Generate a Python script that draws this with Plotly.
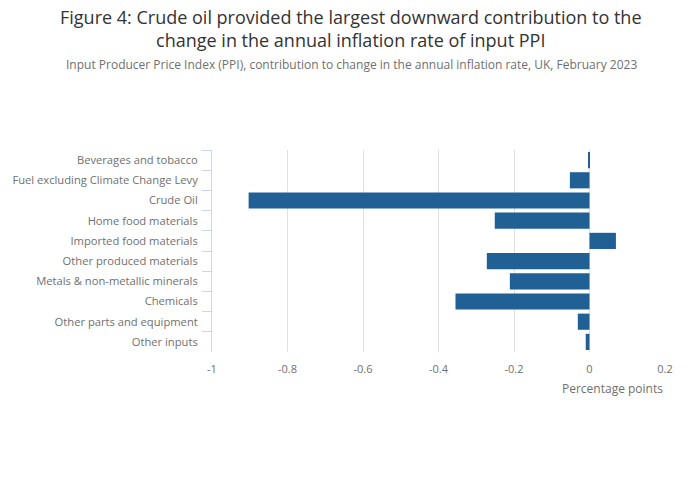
import plotly.graph_objects as go

categories = [
    "Beverages and tobacco",
    "Fuel excluding Climate Change Levy",
    "Crude Oil",
    "Home food materials",
    "Imported food materials",
    "Other produced materials",
    "Metals & non-metallic minerals",
    "Chemicals",
    "Other parts and equipment",
    "Other inputs",
]
values = [-0.003, -0.052, -0.903, -0.251, 0.07, -0.272, -0.211, -0.355, -0.031, -0.01]
x_tick_values = [-1, -0.8, -0.6, -0.4, -0.2, 0, 0.2]
x_tick_labels = ["-1", "-0.8", "-0.6", "-0.4", "-0.2", "0", "0.2"]

W, HGT = 700, 502
LEFT, RIGHT = 210, 665
TOP, BOTTOM = 150, 352
PH = BOTTOM - TOP
PW = RIGHT - LEFT


def py(pixel_y):
    return (BOTTOM - pixel_y) / PH


def px(pixel_x):
    return (pixel_x - LEFT) / PW


fig = go.Figure(
    go.Bar(
        x=values,
        y=categories,
        orientation="h",
        marker=dict(color="#206095", line=dict(width=0)),
        hovertemplate="%{y}: %{x}<extra></extra>",
    )
)

fig.update_layout(
    width=W,
    height=HGT,
    paper_bgcolor="white",
    plot_bgcolor="white",
    font=dict(family="Open Sans", color="#707070", size=11),
    margin=dict(l=LEFT, r=W - RIGHT, t=TOP, b=HGT - BOTTOM, pad=0),
    bargap=0.2,
    showlegend=False,
    annotations=[
        dict(
            text="Figure 4: Crude oil provided the largest downward contribution to the<br>change in the annual inflation rate of input PPI",
            x=px(350), xref="paper", y=py(3), yref="paper",
            xanchor="center", yanchor="top", showarrow=False,
            font=dict(size=18, color="#333333", family="Open Sans"),
            align="center",
        ),
        dict(
            text="Input Producer Price Index (PPI), contribution to change in the annual inflation rate, UK, February 2023",
            x=px(350), xref="paper", y=py(54), yref="paper",
            xanchor="center", yanchor="top", showarrow=False,
            font=dict(size=12, color="#707070", family="Open Sans"),
        ),
        dict(
            text="Percentage points",
            x=1, xref="paper", y=py(378), yref="paper",
            xanchor="right", yanchor="top", showarrow=False,
            font=dict(size=12, color="#707070", family="Open Sans"),
        ),
    ],
)

fig.update_xaxes(
    range=[-1, 0.2],
    tickmode="array",
    tickvals=x_tick_values,
    ticktext=x_tick_labels,
    showgrid=True,
    gridcolor="#e0e0e0",
    gridwidth=1,
    zeroline=False,
    showline=False,
    ticks="outside",
    ticklen=7,
    tickcolor="rgba(0,0,0,0)",
    tickfont=dict(size=11, color="#707070"),
)

fig.update_yaxes(
    autorange="reversed",
    showline=True,
    linecolor="#c8d7ec",
    linewidth=1,
    ticks="outside",
    tickson="boundaries",
    ticklen=9,
    tickcolor="#c8d7ec",
    ticklabelstandoff=11,
    showgrid=False,
    tickfont=dict(size=11.2, color="#707070"),
)

fig.write_html(
    "out.html",
    config={"displayModeBar": False},
    post_script="document.body.style.margin='0';document.body.style.overflow='hidden';",
)
